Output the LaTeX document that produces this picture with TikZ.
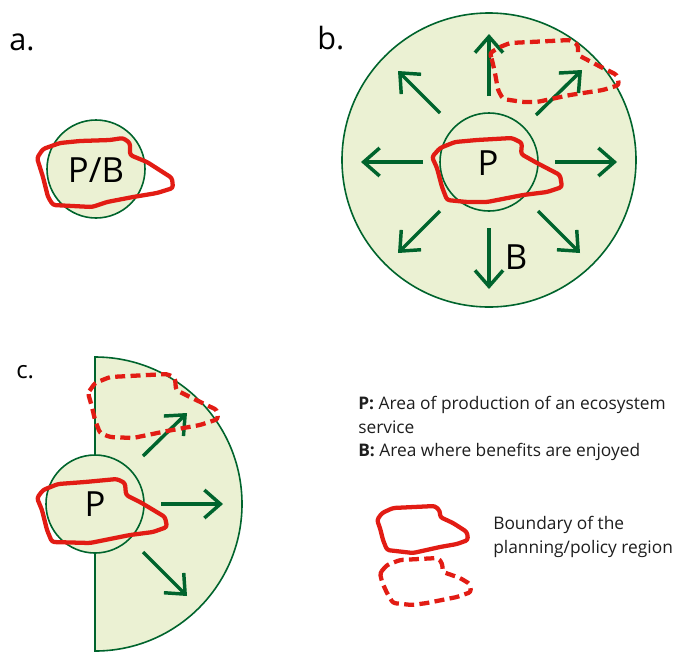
\documentclass[tikz,border=0pt]{standalone}
\usepackage{fontspec}
\setmainfont{Open Sans}
\usetikzlibrary{arrows.meta}
\definecolor{ecogreen}{RGB}{0,100,45}
\definecolor{ecofill}{RGB}{235,241,211}
\definecolor{ecored}{RGB}{226,28,20}
\definecolor{ecotext}{RGB}{30,30,30}
\begin{document}
\begin{tikzpicture}[x=0.75pt,y=-0.75pt,
 area/.style={fill=ecofill,draw=ecogreen,line width=1.2pt},
 flow/.style={draw=ecogreen,line width=2.6pt,-{Straight Barb[length=12pt,width=21pt]}},
 bound/.style={draw=ecored,line width=3.2pt,rounded corners=2pt,line join=round},
 boundd/.style={bound,dash pattern=on 7.5pt off 4pt},
 big/.style={font=\fontsize{26}{30}\selectfont,inner sep=0pt},
 panel/.style={font=\fontsize{23}{26}\selectfont,anchor=base west,inner sep=0pt},
 legend/.style={font=\fontsize{13}{16}\selectfont,anchor=base west,inner sep=0pt,text=ecotext}]
\useasboundingbox (0,0) rectangle (674,651);

% ---------- panel a ----------
\node[panel] (la) at (9,50) {a.};
\draw[area] (96,169) circle[radius=49];
\draw[bound] (37,158) -- (43,149) -- (60,143) -- (80,141) -- (110,140) -- (123,138) -- (130,143) -- (130,155) -- (147,162) -- (172,178) -- (173,188) -- (157,193) -- (133,197) -- (107,202) -- (92,207) -- (53,205) -- (48,197) -- (43,177) -- cycle;
\node[big] (pb) at (96,170) {P/B};

% ---------- panel b ----------
\node[panel] (lb) at (317,49) {b.};
\draw[area] (489,160) circle[radius=147];
\draw[area] (489,162) circle[radius=49];
\coordinate (bu1) at (489,96);  \coordinate (bu2) at (489,34);
\coordinate (bd1) at (489,228); \coordinate (bd2) at (489,289);
\coordinate (bl1) at (423,162); \coordinate (bl2) at (361,162);
\coordinate (br1) at (555,162); \coordinate (br2) at (617,162);
\coordinate (bul1) at (440,113); \coordinate (bul2) at (398,71);
\coordinate (bur1) at (536,115); \coordinate (bur2) at (582,70);
\coordinate (bll1) at (440,211); \coordinate (bll2) at (398,253);
\coordinate (blr1) at (538,211); \coordinate (blr2) at (580,253);
\draw[flow] (bu1) -- (bu2);
\draw[flow] (bd1) -- (bd2);
\draw[flow] (bl1) -- (bl2);
\draw[flow] (br1) -- (br2);
\draw[flow] (bul1) -- (bul2);
\draw[flow] (bur1) -- (bur2);
\draw[flow] (bll1) -- (bll2);
\draw[flow] (blr1) -- (blr2);
\draw[boundd] (492,60) -- (490,53) -- (500,47) -- (510,43) -- (570,40) -- (578,45) -- (578,55) -- (597,65) -- (617,75) -- (619,85) -- (603,90) -- (570,95) -- (537,102) -- (523,102) -- (503,99) -- (498,90) -- (495,73) -- cycle;
\draw[bound] (432,157) -- (440,148) -- (455,142) -- (477,140) -- (512,138) -- (522,143) -- (521,154) -- (537,163) -- (560,175) -- (562,187) -- (547,192) -- (523,195) -- (487,202) -- (467,202) -- (447,200) -- (442,187) -- (437,168) -- cycle;
\node[big] (pbn) at (488,163) {P};
\node[big] (bbn) at (516,257) {B};

% ---------- panel c ----------
\node[panel,font=\fontsize{18}{22}\selectfont] (lc) at (16,378) {c.};
\draw[area] (95,357) arc[start angle=-90,end angle=90,radius=147] -- cycle;
\draw[area] (95,504) circle[radius=49];
\coordinate (cu1) at (143,456); \coordinate (cu2) at (187,413);
\coordinate (cr1) at (161,504); \coordinate (cr2) at (223,504);
\coordinate (cd1) at (143,552); \coordinate (cd2) at (187,596);
\draw[flow] (cu1) -- (cu2);
\draw[flow] (cr1) -- (cr2);
\draw[flow] (cd1) -- (cd2);
\draw[boundd] (88,393) -- (95,383) -- (110,377) -- (167,374) -- (175,378) -- (176,390) -- (192,398) -- (217,410) -- (218,419) -- (200,425) -- (167,431) -- (133,438) -- (110,437) -- (100,433) -- (95,420) -- (92,407) -- cycle;
\draw[bound] (37,498) -- (43,490) -- (58,484) -- (85,482) -- (117,479) -- (125,483) -- (126,495) -- (140,502) -- (165,517) -- (167,527) -- (153,532) -- (130,535) -- (90,543) -- (52,542) -- (47,530) -- (42,510) -- cycle;
\node[big] (pcn) at (95,504) {P};

% ---------- legend ----------
\node[legend] (lp) at (358,409) {\textbf{P:} Area of production of an ecosystem};
\node[legend] (ls) at (358,433) {service};
\node[legend] (lbn) at (358,456) {\textbf{B:} Area where benefits are enjoyed};
\draw[bound] (377,520) -- (382,513) -- (393,508) -- (435,506) -- (440,511) -- (440,517) -- (453,523) -- (467,532) -- (468,540) -- (457,544) -- (440,547) -- (413,553) -- (387,550) -- (383,540) -- (380,528) -- cycle;
\draw[boundd] (380,573) -- (387,565) -- (400,560) -- (438,558) -- (442,563) -- (443,572) -- (460,578) -- (470,584) -- (471,592) -- (457,597) -- (427,603) -- (412,605) -- (393,603) -- (387,593) -- (382,582) -- cycle;
\node[legend] (lb1) at (493,529) {Boundary of the};
\node[legend] (lb2) at (493,553) {planning/policy region};
\end{tikzpicture}
\end{document}
